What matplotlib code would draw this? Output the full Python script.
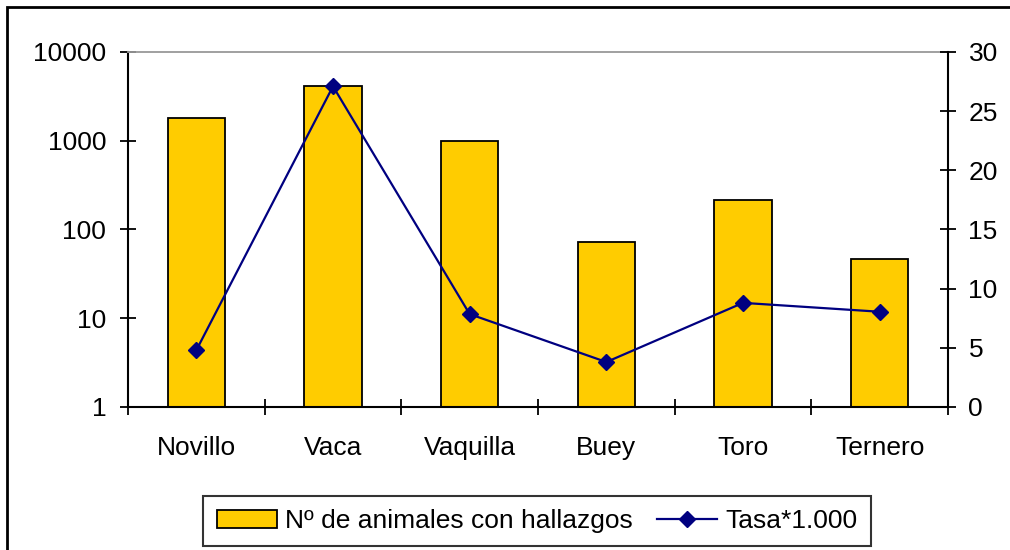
import matplotlib
matplotlib.use("Agg")
import matplotlib.pyplot as plt
from matplotlib.patches import Rectangle
from matplotlib.ticker import FixedLocator, NullLocator, NullFormatter
import numpy as np

categories = ["Novillo", "Vaca", "Vaquilla", "Buey", "Toro", "Ternero"]
animales = [1800, 4150, 990, 72, 215, 46]
tasa = [4.8, 27.1, 7.85, 3.8, 8.8, 8.05]
left_ticks = [1, 10, 100, 1000, 10000]
left_labels = ["1", "10", "100", "1000", "10000"]
right_ticks = [0, 5, 10, 15, 20, 25, 30]

plt.rcParams['font.family'] = ['Liberation Sans', 'DejaVu Sans']
fs = 19

W, H = 1010, 550
fig = plt.figure(figsize=(W / 100, H / 100), dpi=100)

# outer chart frame (cut off at right and bottom)
fig.patches.append(Rectangle((7 / W, -0.1), 1.2, 1 - 7 / H + 0.1,
                             transform=fig.transFigure, fill=False,
                             edgecolor='black', linewidth=2))

ax = fig.add_axes([128 / W, 1 - 407 / H, 820 / W, 355 / H])
x = np.arange(len(categories))

ax.bar(x, animales, width=0.42, bottom=0, color='#FFCC00',
       edgecolor='black', linewidth=1.3, label='Nº de animales con hallazgos')
ax.set_yscale('log')
ax.set_ylim(1, 10000)
ax.set_xlim(-0.5, len(categories) - 0.5)
ax.yaxis.set_major_locator(FixedLocator(left_ticks))
ax.set_yticklabels(left_labels)
ax.yaxis.set_minor_locator(NullLocator())
ax.yaxis.set_minor_formatter(NullFormatter())

ax.set_xticks(np.arange(-0.5, len(categories), 1.0))
ax.set_xticklabels([])
ax.set_xticks(x, minor=True)
ax.set_xticklabels(categories, minor=True, fontsize=fs)
ax.tick_params(axis='x', which='major', direction='inout', length=11.5, width=1.3)
ax.tick_params(axis='x', which='minor', length=0, pad=21)
ax.tick_params(axis='y', which='major', direction='inout', length=11.5, width=1.3,
               labelsize=fs, pad=10)

for s in ['left', 'bottom']:
    ax.spines[s].set_linewidth(1.5)
ax.spines['top'].set_color('#999999')
ax.spines['top'].set_linewidth(1.3)
ax.spines['right'].set_visible(False)

ax2 = ax.twinx()
ax2.plot(x, tasa, color='#000080', linewidth=1.6, marker='D', markersize=8,
         label='Tasa*1.000')
ax2.set_ylim(0, 30)
ax2.set_yticks(right_ticks)
ax2.tick_params(axis='y', direction='inout', length=11.5, width=1.3,
                labelsize=fs, pad=9)
ax2.spines['right'].set_linewidth(1.5)
for s in ['top', 'left', 'bottom']:
    ax2.spines[s].set_visible(False)

h1, l1 = ax.get_legend_handles_labels()
h2, l2 = ax2.get_legend_handles_labels()
leg = fig.legend(h1 + h2, l1 + l2, loc='center', ncol=2,
                 bbox_to_anchor=(537 / W, 1 - 521 / H), fontsize=fs,
                 frameon=True, fancybox=False, edgecolor='black',
                 handlelength=2.3, handletextpad=0.3, columnspacing=0.9,
                 borderpad=0.5, borderaxespad=0)
leg.get_frame().set_linewidth(1.5)

fig.savefig("out.png", dpi=100)
